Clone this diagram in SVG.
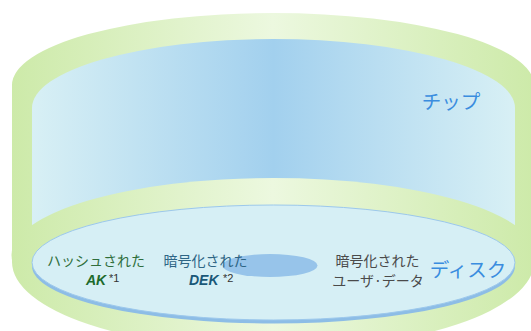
<svg xmlns="http://www.w3.org/2000/svg" width="531" height="331" viewBox="0 0 531 331">
  <defs>
    <linearGradient id="gGreen" gradientUnits="userSpaceOnUse" x1="12" y1="0" x2="534" y2="0">
      <stop offset="0" stop-color="#cdeaa9"/>
      <stop offset="0.5" stop-color="#ecf8df"/>
      <stop offset="1" stop-color="#cdeaa9"/>
    </linearGradient>
    <linearGradient id="gChip" gradientUnits="userSpaceOnUse" x1="32" y1="0" x2="515" y2="0">
      <stop offset="0" stop-color="#d8f0f5"/>
      <stop offset="0.5" stop-color="#a2d0ee"/>
      <stop offset="1" stop-color="#d8f0f5"/>
    </linearGradient>
    <style>
      text { font-family: "Noto Sans CJK JP", "Noto Sans", sans-serif; }
      .lbl { font-size: 14px; text-anchor: middle; }
      .title { font-size: 19.5px; fill: #3a8ddf; text-anchor: middle; }
      .key { font-family: "Liberation Sans", Arial, sans-serif; font-size: 14px; font-weight: bold; font-style: italic; }
      .note { font-family: "Liberation Sans", Arial, sans-serif; font-size: 11px; fill: #333333; }
    </style>
  </defs>

  <!-- outer cylinder body -->
  <g id="body">
    <path d="M12,85 A261,72 0 0 1 534,85 L534,262 A261,88 0 0 1 12,262 Z" fill="url(#gGreen)"/>
  </g>

  <!-- chip: inner cylinder -->
  <g id="chip">
    <path d="M32,108 A241.5,69 0 0 1 515,108 L515,240 L32,240 Z" fill="url(#gChip)"/>
    <!-- floor under the chip -->
    <ellipse cx="273.5" cy="255" rx="262" ry="77" fill="url(#gGreen)"/>
    <text class="title" x="451" y="109">チップ</text>
  </g>

  <!-- disk platter -->
  <g id="disk">
    <ellipse cx="273.5" cy="266" rx="241.5" ry="57.5" fill="#8dbde6"/>
    <ellipse cx="273.5" cy="262.5" rx="241.5" ry="57.5" fill="#d6eff5" stroke="#9cc8ec" stroke-width="1"/>
    <ellipse cx="270" cy="265.5" rx="47.5" ry="11.5" fill="#97c4ea"/>
    <text class="title" x="468" y="277">ディスク</text>
  </g>

  <g id="ak">
    <text class="lbl" x="96" y="266" fill="#2f6e3c">ハッシュされた</text>
    <text class="key" x="86" y="285" fill="#1d6b2c">AK</text>
    <text class="note" x="109" y="282">*1</text>
  </g>

  <g id="dek">
    <text class="lbl" x="205.5" y="266" fill="#2e6585">暗号化された</text>
    <text class="key" x="189" y="285" fill="#1a5878">DEK</text>
    <text class="note" x="223" y="282">*2</text>
  </g>

  <g id="userdata">
    <text class="lbl" x="377.5" y="266" fill="#4a4a4a">暗号化された</text>
    <text class="lbl" x="378" y="286" fill="#4a4a4a">ユーザ·データ</text>
  </g>
</svg>
